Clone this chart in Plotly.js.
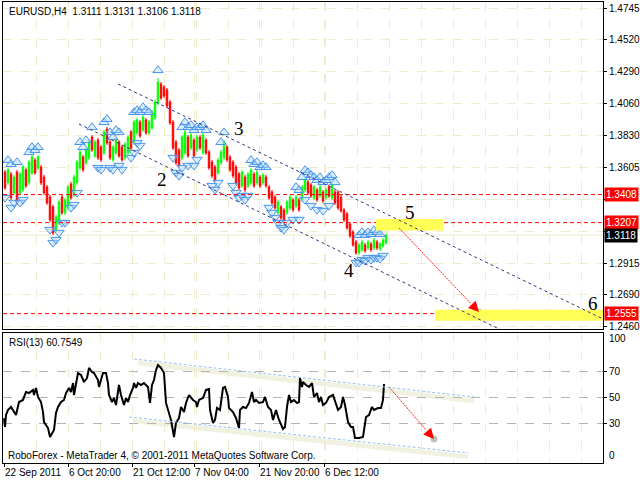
<!DOCTYPE html>
<html><head><meta charset="utf-8">
<script src="https://cdn.plot.ly/plotly-3.0.1.min.js"></script>
<style>html,body{margin:0;padding:0;background:#fff}#chart{width:640px;height:480px}</style>
</head><body><div id="chart"></div>
<script>
// ---- price data (one candle per 3 H4 bars) ----
const openP = [1.3570,1.3492,1.3556,1.3420,1.3570,1.3420,1.3441,1.3585,1.3492,1.3563,
1.3656,1.3599,1.3606,1.3534,1.3463,1.3391,1.3320,1.3155,1.3205,1.3391,
1.3277,1.3312,1.3484,1.3406,1.3492,1.3599,1.3678,1.3635,1.3671,1.3821,
1.3685,1.3799,1.3749,1.3706,1.3878,1.3785,1.3656,1.3706,1.3785,1.3749,
1.3671,1.3706,1.3857,1.3778,1.3850,1.3928,1.3871,1.3943,1.3850,1.3885,
1.3957,1.4064,1.4200,1.4179,1.4158,1.4072,1.3928,1.3785,1.3728,1.3671,
1.3706,1.3821,1.3742,1.3799,1.3728,1.3821,1.3706,1.3799,1.3714,1.3642,
1.3606,1.3563,1.3635,1.3671,1.3749,1.3678,1.3642,1.3606,1.3556,1.3470,
1.3534,1.3470,1.3492,1.3556,1.3492,1.3534,1.3492,1.3534,1.3463,1.3427,
1.3391,1.3277,1.3320,1.3298,1.3277,1.3312,1.3370,1.3327,1.3370,1.3370,
1.3441,1.3499,1.3477,1.3384,1.3441,1.3398,1.3427,1.3384,1.3463,1.3384,
1.3427,1.3427,1.3391,1.3298,1.3270,1.3198,1.3140,1.3069,1.2990,1.3011,
1.3047,1.3026,1.3054,1.3026,1.3069,1.3019,1.3040,1.3062];
const highP = [1.3585,1.3599,1.3570,1.3549,1.3585,1.3570,1.3621,1.3599,1.3656,1.3692,
1.3671,1.3692,1.3621,1.3549,1.3477,1.3406,1.3334,1.3262,1.3370,1.3406,
1.3384,1.3477,1.3499,1.3549,1.3656,1.3728,1.3692,1.3742,1.3799,1.3835,
1.3799,1.3814,1.3764,1.3871,1.3893,1.3799,1.3764,1.3814,1.3799,1.3764,
1.3785,1.3835,1.3871,1.3943,1.3957,1.3943,1.3979,1.3957,1.3943,1.4014,
1.4086,1.4244,1.4215,1.4193,1.4172,1.4086,1.3943,1.3799,1.3742,1.3835,
1.3871,1.3835,1.3850,1.3814,1.3835,1.3835,1.3850,1.3814,1.3728,1.3656,
1.3621,1.3671,1.3728,1.3799,1.3764,1.3692,1.3656,1.3621,1.3570,1.3585,
1.3549,1.3570,1.3599,1.3570,1.3585,1.3549,1.3563,1.3549,1.3477,1.3441,
1.3406,1.3370,1.3334,1.3312,1.3370,1.3406,1.3384,1.3406,1.3384,1.3477,
1.3527,1.3513,1.3492,1.3477,1.3456,1.3477,1.3441,1.3456,1.3477,1.3492,
1.3441,1.3441,1.3406,1.3312,1.3284,1.3212,1.3155,1.3083,1.3062,1.3083,
1.3062,1.3083,1.3069,1.3097,1.3083,1.3069,1.3097,1.3131];
const lowP = [1.3441,1.3477,1.3370,1.3406,1.3334,1.3406,1.3427,1.3456,1.3477,1.3549,
1.3549,1.3585,1.3477,1.3406,1.3334,1.3212,1.3119,1.3140,1.3191,1.3262,
1.3262,1.3298,1.3370,1.3391,1.3477,1.3585,1.3570,1.3621,1.3656,1.3714,
1.3671,1.3656,1.3642,1.3692,1.3764,1.3656,1.3642,1.3692,1.3671,1.3642,
1.3656,1.3692,1.3728,1.3764,1.3835,1.3814,1.3857,1.3835,1.3835,1.3871,
1.3943,1.4050,1.4086,1.4100,1.4029,1.3907,1.3728,1.3621,1.3599,1.3656,
1.3692,1.3671,1.3728,1.3671,1.3714,1.3728,1.3692,1.3692,1.3585,1.3527,
1.3499,1.3549,1.3621,1.3656,1.3642,1.3570,1.3527,1.3477,1.3441,1.3456,
1.3427,1.3456,1.3477,1.3456,1.3477,1.3456,1.3477,1.3456,1.3370,1.3334,
1.3298,1.3262,1.3226,1.3212,1.3262,1.3298,1.3284,1.3312,1.3284,1.3355,
1.3427,1.3406,1.3384,1.3370,1.3355,1.3384,1.3348,1.3370,1.3384,1.3370,
1.3334,1.3298,1.3277,1.3212,1.3155,1.3097,1.3033,1.2976,1.2976,1.2997,
1.2990,1.3011,1.2997,1.3011,1.3011,1.3004,1.3026,1.3050];
const closeP = [1.3456,1.3585,1.3384,1.3534,1.3348,1.3556,1.3606,1.3470,1.3642,1.3678,
1.3563,1.3678,1.3492,1.3420,1.3348,1.3226,1.3133,1.3248,1.3355,1.3277,
1.3370,1.3463,1.3384,1.3534,1.3642,1.3714,1.3585,1.3728,1.3785,1.3728,
1.3785,1.3671,1.3656,1.3857,1.3778,1.3671,1.3749,1.3799,1.3685,1.3656,
1.3771,1.3821,1.3742,1.3928,1.3943,1.3828,1.3964,1.3850,1.3928,1.4000,
1.4072,1.4215,1.4100,1.4115,1.4043,1.3921,1.3742,1.3635,1.3613,1.3821,
1.3857,1.3685,1.3835,1.3685,1.3821,1.3742,1.3835,1.3706,1.3599,1.3542,
1.3513,1.3656,1.3714,1.3785,1.3656,1.3585,1.3542,1.3492,1.3456,1.3570,
1.3441,1.3556,1.3585,1.3470,1.3570,1.3470,1.3549,1.3470,1.3384,1.3348,
1.3312,1.3355,1.3241,1.3226,1.3355,1.3391,1.3298,1.3391,1.3298,1.3463,
1.3513,1.3420,1.3398,1.3463,1.3370,1.3463,1.3362,1.3441,1.3398,1.3477,
1.3348,1.3312,1.3291,1.3226,1.3169,1.3112,1.3047,1.2990,1.3047,1.3069,
1.3004,1.3069,1.3011,1.3083,1.3026,1.3054,1.3083,1.3118];

// indices of candles carrying the blue arrow marks
const upMarkIdx = [1,2,4,8,9,10,11,25,26,27,29,33,34,35,36,37,38,43,44,45,46,47,48,51,59,60,61,62,63,64,65,66,67,72,73,82,83,84,85,86,87,97,98,99,100,101,102,103,104,105,106,107,108,109,110,118,119,120,121,122,123,124,125];
const dnMarkIdx = [0,2,3,5,6,15,16,17,18,19,20,22,23,24,31,32,35,36,38,39,42,43,44,45,56,57,58,59,61,63,64,69,70,71,76,77,78,79,80,81,88,89,90,91,92,93,94,96,98,100,102,104,106,108,117,118,119,120,121,122,123,124,125,126];

// ---- RSI(13) ----
const rsiBar = [0,1,2,4,7,10,12,15,19,22,25,29,30,32,34,37,39,40,44,46,49,50,52,54,57,60,62,65,67,69,70,72,74,77,80,83,85,88,90,94,95,97,99,102,104,105,108,110,112,115,117,120,122,124,126,129,130,132,134,137,140,144,146,148,150,152,154,157,160,162,165,167,170,172,175,177,180,182,185,189,192,193,195,199,202,205,206,209,211,213,216,219,221,224,225,229,232,235,236,239,242,245,248,250,252,255,259,261,264,267,269,272,275,279,281,283,285,287,290,293,295,296,298,299,302,305,308,310,313,315,317,319,322,325,329,330,334,337,339,341,344,347,349,351,355,359,362,365,368,370,374,377,379,380];
const rsiVal = [34.6,27.7,36.9,40.8,43.1,39.2,36.9,46.9,48.5,54.6,53.8,56.2,52.3,57.7,50.8,46.9,39.2,31.5,26.9,20.0,23.8,25.4,38.5,43.1,46.9,48.5,53.8,57.7,54.6,61.5,52.3,61.5,69.2,67.7,62.3,65.4,73.1,70.0,69.2,63.8,58.5,63.8,69.2,69.2,61.5,52.3,46.9,50.0,44.6,60.0,52.3,44.6,50.0,46.9,52.3,57.7,61.5,57.7,61.5,60.0,61.5,58.5,46.2,60.0,63.8,71.5,75.4,73.1,69.2,46.2,39.2,33.1,20.0,30.8,34.6,43.1,39.2,46.2,52.3,48.5,46.9,43.1,48.5,50.0,56.2,56.9,40.8,30.8,33.1,42.3,40.8,57.7,58.5,50.8,42.3,39.2,34.6,26.9,40.8,43.1,42.3,46.2,54.6,46.9,48.5,46.2,46.9,50.8,43.1,40.8,33.1,40.8,33.1,26.2,27.7,43.1,52.3,46.9,48.5,46.2,46.9,65.4,58.5,62.3,60.0,58.5,61.5,50.8,53.8,46.9,50.8,44.6,46.2,50.8,52.3,50.0,40.8,43.1,50.8,44.6,31.5,27.7,27.7,19.2,19.2,20.0,35.4,36.9,43.1,40.8,42.3,42.3,48.5,60.75];

// ---- axes ----
const dateTickBars = [0,64,128,190,255,320];
const dateTickText = ['22 Sep 2011','6 Oct 20:00','21 Oct 12:00','7 Nov 04:00','21 Nov 20:00','6 Dec 12:00'];
const gridBars = [0,32,64,96,128,160,192,224,257,289,321,353,385,417,449,481,513,545,577];
const priceTicks = [1.4745,1.4520,1.4290,1.4060,1.3830,1.3605,1.3375,1.3145,1.2915,1.2690,1.2460];
const priceTickText = ['1.4745','1.4520','1.4290','1.4060','1.3830','1.3605','','','1.2915','1.2690','1.2460'];
const rsiTicks = [30,50,70];

// ---- levels / drawings ----
const redLevels = [1.3408,1.3207,1.2555];
const bidPrice = 1.3118;
const zone5 = {x:[372,439], y:[1.3150,1.3234]};
const zone6 = {x:[431,600], y:[1.2504,1.2582]};
const chanUpper = {x:[114,597], y:[1.4201,1.2524]};
const chanLower = {x:[75,497], y:[1.3914,1.2438]};
const waveLabels = ['2','3','4','5','6'];
const waveX = [158,235,345,406,589];
const waveY = [1.3513,1.3885,1.2861,1.3277,1.2625];
const mainArrow = {x:[395,475], y:[1.3169,1.2567], back:[466.7,1.2629]};
const rsiUpper = {x:[130,470], y:[80,50.8]};
const rsiLower = {x:[125,464], y:[35.4,7.7]};
const rsiArrow = {x:[385,430], y:[58.5,18.5], back:[422,25.5]};

const candleX = closeP.map((_, i) => i * 3 + 1);
const pale = 'rgb(238,236,205)';
const F = 'Liberation Sans';

const traces = [
  {type:'candlestick', x:candleX, open:openP, high:highP, low:lowP, close:closeP,
   xaxis:'x2', yaxis:'y', whiskerwidth:0,
   increasing:{line:{color:'#00ff00',width:1}, fillcolor:'#00ff00'},
   decreasing:{line:{color:'#ff0000',width:1}, fillcolor:'#ff0000'},
   hoverinfo:'skip', showlegend:false},
  {type:'scatter', mode:'markers', xaxis:'x2', yaxis:'y',
   x:upMarkIdx.map(i=>candleX[i]), y:upMarkIdx.map(i=>highP[i]+0.0055),
   marker:{symbol:'triangle-up', size:9, color:'rgba(170,210,255,0.45)', line:{color:'#4a97ea',width:1}},
   hoverinfo:'skip', showlegend:false},
  {type:'scatter', mode:'markers', xaxis:'x2', yaxis:'y',
   x:dnMarkIdx.map(i=>candleX[i]), y:dnMarkIdx.map(i=>lowP[i]-0.0055),
   marker:{symbol:'triangle-down', size:9, color:'rgba(170,210,255,0.45)', line:{color:'#4a97ea',width:1}},
   hoverinfo:'skip', showlegend:false},
  {type:'scatter', mode:'lines', x:rsiBar, y:rsiVal, xaxis:'x', yaxis:'y2',
   line:{color:'#000',width:2}, hoverinfo:'skip', showlegend:false},
  {type:'scatter', mode:'markers', xaxis:'x2', yaxis:'y', x:[mainArrow.x[1]], y:[mainArrow.y[1]],
   marker:{size:7,color:'rgba(150,120,70,0.45)'}, hoverinfo:'skip', showlegend:false},
  {type:'scatter', mode:'markers', xaxis:'x', yaxis:'y2', x:[rsiArrow.x[1]], y:[rsiArrow.y[1]],
   marker:{size:7,color:'rgba(120,120,110,0.45)'}, hoverinfo:'skip', showlegend:false}
];

const shapes = [];
redLevels.forEach(v => shapes.push({type:'line', xref:'x2 domain', yref:'y', x0:0, x1:1, y0:v, y1:v,
  line:{color:'#ff0000', width:1, dash:'4px,3px'}, layer:'above'}));
shapes.push({type:'line', xref:'x2 domain', yref:'y', x0:0, x1:1, y0:bidPrice, y1:bidPrice,
  line:{color:'rgb(232,232,200)', width:1}, layer:'below'});
[zone5, zone6].forEach(z => shapes.push({type:'rect', xref:'x2', yref:'y', x0:z.x[0], x1:z.x[1], y0:z.y[0], y1:z.y[1],
  fillcolor:'#ffff55', line:{width:0}, layer:'above'}));
[chanUpper, chanLower].forEach(c => shapes.push({type:'line', xref:'x2', yref:'y', x0:c.x[0], x1:c.x[1], y0:c.y[0], y1:c.y[1],
  line:{color:'rgb(60,50,130)', width:1, dash:'3px,3px'}, layer:'above'}));
shapes.push({type:'line', xref:'x2', yref:'y', x0:mainArrow.x[0], x1:mainArrow.back[0], y0:mainArrow.y[0], y1:mainArrow.back[1],
  line:{color:'#ff2020', width:1, dash:'2px,1px'}, layer:'above'});
[rsiUpper, rsiLower].forEach(c => {
  shapes.push({type:'line', xref:'x', yref:'y2', x0:c.x[0]+4, x1:c.x[1], y0:c.y[0]-3, y1:c.y[1]-3,
    line:{color:'rgba(232,232,205,0.6)', width:5}, layer:'below'});
  shapes.push({type:'line', xref:'x', yref:'y2', x0:c.x[0], x1:c.x[1], y0:c.y[0], y1:c.y[1],
    line:{color:'rgb(150,195,240)', width:1, dash:'3px,2px'}, layer:'above'});
});
shapes.push({type:'line', xref:'x', yref:'y2', x0:rsiArrow.x[0], x1:rsiArrow.back[0], y0:rsiArrow.y[0], y1:rsiArrow.back[1],
  line:{color:'#ff2020', width:1, dash:'2px,1px'}, layer:'above'});

const annotations = [];
annotations.push({xref:'paper', yref:'paper', x:0, y:1, xanchor:'left', yanchor:'middle', xshift:4, yshift:-9,
  text:'EURUSD,H4  1.3111 1.3131 1.3106 1.3118', showarrow:false, font:{family:F, size:10, color:'#000'}});
annotations.push({xref:'paper', yref:'paper', x:0, y:0.282, xanchor:'left', yanchor:'middle', xshift:4, yshift:-10,
  text:'RSI(13) 60.7549', showarrow:false, font:{family:F, size:10, color:'#000'}});
annotations.push({xref:'paper', yref:'paper', x:0, y:0, xanchor:'left', yanchor:'middle', xshift:3, yshift:8,
  text:'RoboForex - MetaTrader 4, © 2001-2011 MetaQuotes Software Corp.', showarrow:false, font:{family:F, size:10, color:'#000'}});
waveLabels.forEach((t,i) => annotations.push({xref:'x2', yref:'y', x:waveX[i], y:waveY[i], text:t, showarrow:false,
  font:{family:'Liberation Serif', size:19, color:'#000'}}));
redLevels.forEach(v => annotations.push({xref:'paper', yref:'y', x:1, y:v, xanchor:'left', yanchor:'middle', xshift:1,
  text:v.toFixed(4), showarrow:false, bgcolor:'#ff0000', borderpad:1, font:{family:F, size:10, color:'#fff'}}));
annotations.push({xref:'paper', yref:'y', x:1, y:bidPrice, xanchor:'left', yanchor:'middle', xshift:1,
  text:bidPrice.toFixed(4), showarrow:false, bgcolor:'#000', borderpad:1, font:{family:F, size:10, color:'#fff'}});
annotations.push({xref:'paper', yref:'y2', x:1, y:95.4, xanchor:'left', yanchor:'middle', xshift:4,
  text:'100', showarrow:false, font:{family:F, size:10, color:'#000'}});
annotations.push({xref:'paper', yref:'y2', x:1, y:5.4, xanchor:'left', yanchor:'middle', xshift:4,
  text:'0', showarrow:false, font:{family:F, size:10, color:'#000'}});
annotations.push({xref:'x2', yref:'y', axref:'x2', ayref:'y', x:mainArrow.x[1], y:mainArrow.y[1],
  ax:mainArrow.back[0], ay:mainArrow.back[1], text:'', showarrow:true, arrowhead:2, arrowsize:1.6, arrowwidth:1.3, arrowcolor:'#ff0000'});
annotations.push({xref:'x', yref:'y2', axref:'x', ayref:'y2', x:rsiArrow.x[1], y:rsiArrow.y[1],
  ax:rsiArrow.back[0], ay:rsiArrow.back[1], text:'', showarrow:true, arrowhead:2, arrowsize:1.6, arrowwidth:1.3, arrowcolor:'#ff0000'});

const xCommon = {range:[-1,599], showline:true, linecolor:'#000', linewidth:1, mirror:true, zeroline:false,
  showgrid:true, gridcolor:pale, griddash:'dash', gridwidth:1,
  minor:{tickmode:'array', tickvals:gridBars, showgrid:true, gridcolor:pale, griddash:'dash', gridwidth:1, ticks:''}};

const layout = {
  width:640, height:480, margin:{l:3, r:37, t:2, b:17},
  paper_bgcolor:'#fff', plot_bgcolor:'#fff', showlegend:false, dragmode:false,
  xaxis: Object.assign({}, xCommon, {domain:[0,1], anchor:'y2', tickmode:'array', tickvals:dateTickBars, ticktext:dateTickText,
    ticks:'outside', ticklen:3, tickcolor:'#000', ticklabelposition:'outside right', tickangle:0, automargin:false,
    tickfont:{family:F, size:10, color:'#000'}, rangeslider:{visible:false}}),
  xaxis2: Object.assign({}, xCommon, {domain:[0,1], anchor:'y', matches:'x', tickmode:'array', tickvals:dateTickBars,
    showticklabels:false, ticks:'', rangeslider:{visible:false}}),
  yaxis: {domain:[0.2907,1], anchor:'x2', side:'right', range:[1.2445,1.4788], tickmode:'array', tickvals:priceTicks,
    ticktext:priceTickText, ticks:'outside', ticklen:3, tickcolor:'#000',
    showline:true, linecolor:'#000', mirror:true, zeroline:false, showgrid:true, gridcolor:pale, griddash:'dash',
    tickfont:{family:F, size:10, color:'#000'}},
  yaxis2: {domain:[0,0.282], anchor:'x', side:'right', range:[0,100], tickmode:'array', tickvals:rsiTicks,
    ticks:'outside', ticklen:3, tickcolor:'#000', showline:true, linecolor:'#000', mirror:true, zeroline:false,
    showgrid:true, gridcolor:'rgb(180,180,180)', griddash:'dash', tickfont:{family:F, size:10, color:'#000'}},
  shapes: shapes, annotations: annotations
};

Plotly.newPlot('chart', traces, layout, {staticPlot:true, displayModeBar:false});
</script></body></html>
